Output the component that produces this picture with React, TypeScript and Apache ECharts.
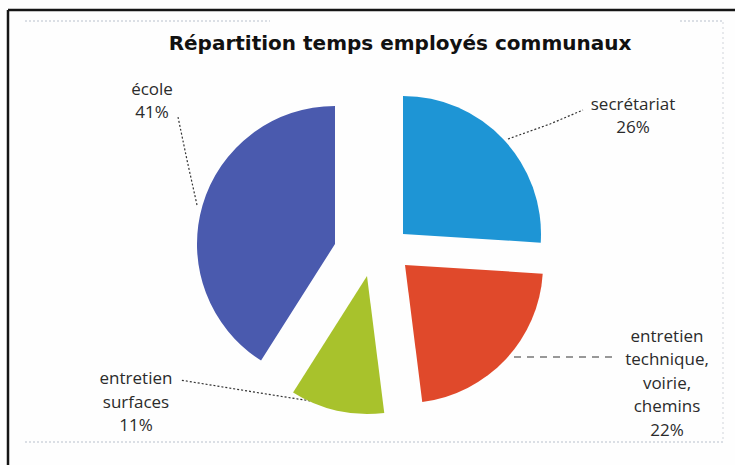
import React, { useEffect, useRef } from "react";
import * as echarts from "echarts";

const categories = ["secrétariat", "entretien technique, voirie, chemins", "entretien surfaces", "école"];
const labelTexts = ["secrétariat", "entretien\ntechnique,\nvoirie,\nchemins", "entretien\nsurfaces", "école"];
const values = [26, 22, 11, 41];
const colors = ["#1e95d5", "#e0492b", "#a8c22c", "#4a5aae"];

// layout (positions, not data)
const R = 138;
const apexes: [number, number][] = [
  [403, 234],
  [405, 265],
  [367, 276],
  [335, 244],
];
const labelPos: [number, number][] = [
  [633, 115],
  [667, 382],
  [136, 401],
  [152, 100],
];
const linePts: number[][][] = [
  [[508, 139], [550, 124], [583, 110]],
  [[514, 357], [570, 357], [618, 357]],
  [[330, 404], [260, 393], [180, 380]],
  [[197, 205], [187, 160], [178, 117]],
];
const lineTypes: any[] = [[2, 2], [7, 6], [2, 2], [2, 2]];

export default function App() {
  const ref = useRef<HTMLDivElement>(null);
  useEffect(() => {
    if (!ref.current) return;
    const chart = echarts.init(ref.current, null, { renderer: "svg" });
    const series = categories.map((_, owner) => ({
      type: "pie",
      center: apexes[owner],
      radius: R,
      startAngle: 90,
      clockwise: true,
      silent: true,
      selectedMode: false,
      avoidLabelOverlap: false,
      percentPrecision: 0,
      emphasis: { disabled: true },
      label: {
        position: "outside",
        color: "#2b2b2b",
        fontFamily: "Open Sans",
        fontSize: 17,
        lineHeight: 23.5,
        align: "center",
        formatter: (p: any) => labelTexts[p.dataIndex] + "\n" + p.percent + "%",
      },
      labelLayout: (params: any) => ({
        x: labelPos[params.dataIndex][0],
        y: labelPos[params.dataIndex][1],
        align: "center",
        verticalAlign: "middle",
        labelLinePoints: linePts[params.dataIndex],
      }),
      data: values.map((v, i) => ({
        name: categories[i],
        value: v,
        itemStyle: { color: i === owner ? colors[i] : "rgba(0,0,0,0)" },
        label: { show: i === owner },
        labelLine: {
          show: i === owner,
          smooth: false,
          lineStyle: { color: "#333", width: 1.2, type: lineTypes[i] },
        },
      })),
    }));
    chart.setOption({
      animation: false,
      backgroundColor: "#fefefe",
      title: {
        text: "Répartition temps employés communaux",
        left: 395,
        top: 28,
        textAlign: "center",
        textStyle: {
          fontFamily: "DejaVu Sans",
          fontWeight: "bold",
          fontSize: 20,
          color: "#111",
        },
      },
      graphic: [
        { type: "line", shape: { x1: 8, y1: 10, x2: 735, y2: 10 }, style: { stroke: "#151515", lineWidth: 2.5 } },
        { type: "line", shape: { x1: 8, y1: 10, x2: 8, y2: 465 }, style: { stroke: "#151515", lineWidth: 2.5 } },
        { type: "line", shape: { x1: 25, y1: 21, x2: 270, y2: 21 }, style: { stroke: "#b8c0cc", lineWidth: 1, lineDash: [2, 2] } },
        { type: "line", shape: { x1: 680, y1: 21, x2: 722, y2: 21 }, style: { stroke: "#b8c0cc", lineWidth: 1, lineDash: [2, 2] } },
        { type: "line", shape: { x1: 723, y1: 22, x2: 723, y2: 442 }, style: { stroke: "#d0d4da", lineWidth: 1, lineDash: [2, 3] } },
        { type: "line", shape: { x1: 25, y1: 442, x2: 723, y2: 442 }, style: { stroke: "#b8c0cc", lineWidth: 1, lineDash: [2, 2] } },
      ],
      series,
    });
    return () => chart.dispose();
  }, []);
  return (
    <div
      ref={ref}
      style={{ position: "fixed", left: 0, top: 0, width: 735, height: 465 }}
    />
  );
}
